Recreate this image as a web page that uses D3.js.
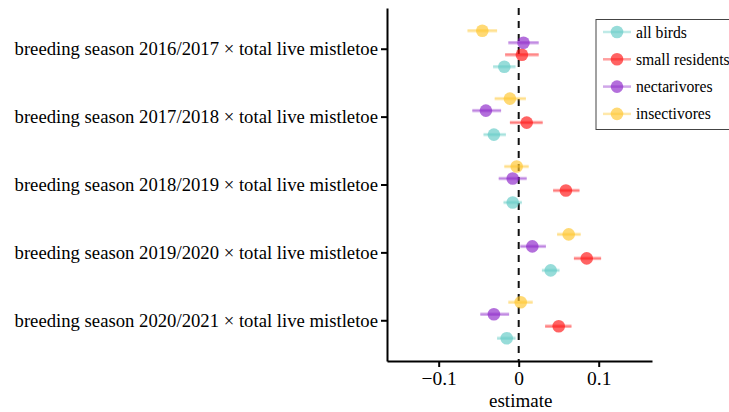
<!DOCTYPE html>
<html>
<head>
<meta charset="utf-8">
<script src="https://cdn.jsdelivr.net/npm/d3@7"></script>
<style>
  body { margin: 0; background: #fff; }
  svg { display: block; font-family: "Liberation Serif", "DejaVu Serif", serif; }
</style>
</head>
<body>
<div id="chart"></div>
<script>
// terms on the y axis, top to bottom
const terms = [
  "breeding season 2016/2017 \u00d7 total live mistletoe",
  "breeding season 2017/2018 \u00d7 total live mistletoe",
  "breeding season 2018/2019 \u00d7 total live mistletoe",
  "breeding season 2019/2020 \u00d7 total live mistletoe",
  "breeding season 2020/2021 \u00d7 total live mistletoe"
];

// legend order
const groups = ["all birds", "small residents", "nectarivores", "insectivores"];
const groupColors = ["#5fcac4", "#ff1010", "#8a22c8", "#ffc52a"];

// estimates and interval ends, one value per term
const estAll = [-0.018, -0.031, -0.0075, 0.040, -0.015];
const loAll  = [-0.032, -0.044, -0.019, 0.029, -0.027];
const hiAll  = [-0.004, -0.016, 0.004, 0.051, -0.004];

const estSmall = [0.004, 0.010, 0.059, 0.085, 0.050];
const loSmall  = [-0.017, -0.011, 0.043, 0.069, 0.033];
const hiSmall  = [0.025, 0.030, 0.076, 0.103, 0.066];

const estNect = [0.006, -0.041, -0.0075, 0.017, -0.031];
const loNect  = [-0.013, -0.058, -0.025, 0.002, -0.048];
const hiNect  = [0.025, -0.022, 0.010, 0.034, -0.012];

const estInsect = [-0.0455, -0.011, -0.0025, 0.0625, 0.0025];
const loInsect  = [-0.064, -0.030, -0.018, 0.048, -0.013];
const hiInsect  = [-0.027, 0.009, 0.0125, 0.0775, 0.0175];

const xTicks = [-0.1, 0, 0.1];

const width = 729, height = 412;
const margin = {top: 8, right: 77, bottom: 51, left: 387};

const svg = d3.select("#chart").append("svg")
    .attr("width", width)
    .attr("height", height);

const x = d3.scaleLinear()
    .domain([-0.1646, 0.1666])
    .range([margin.left, width - margin.right]);

const y = d3.scalePoint()
    .domain(terms)
    .range([margin.top, height - margin.bottom])
    .padding(0.6);

// within a term: insectivores on top, all birds at the bottom
const offset = d3.scalePoint()
    .domain(groups.slice().reverse())
    .range([-18, 18]);

const color = d3.scaleOrdinal().domain(groups).range(groupColors);

const series = [
  {group: "all birds", est: estAll, lo: loAll, hi: hiAll},
  {group: "small residents", est: estSmall, lo: loSmall, hi: hiSmall},
  {group: "nectarivores", est: estNect, lo: loNect, hi: hiNect},
  {group: "insectivores", est: estInsect, lo: loInsect, hi: hiInsect}
];

const rows = [];
series.forEach(s => {
    terms.forEach((t, i) => {
        rows.push({group: s.group, term: t, est: s.est[i], lo: s.lo[i], hi: s.hi[i]});
    });
});

// zero line
svg.append("line")
    .attr("x1", x(0)).attr("x2", x(0))
    .attr("y1", margin.top).attr("y2", height - margin.bottom)
    .attr("stroke", "#111")
    .attr("stroke-width", 2)
    .attr("stroke-dasharray", "7,6");

const marks = svg.append("g");

marks.selectAll("line.ci")
    .data(rows)
    .join("line")
    .attr("class", "ci")
    .attr("x1", d => x(d.lo))
    .attr("x2", d => x(d.hi))
    .attr("y1", d => y(d.term) + offset(d.group))
    .attr("y2", d => y(d.term) + offset(d.group))
    .attr("stroke", d => color(d.group))
    .attr("stroke-opacity", 0.35)
    .attr("stroke-width", 3.5);

marks.selectAll("line.ci-inner")
    .data(rows)
    .join("line")
    .attr("class", "ci-inner")
    .attr("x1", d => x(d.lo))
    .attr("x2", d => x(d.hi))
    .attr("y1", d => y(d.term) + offset(d.group))
    .attr("y2", d => y(d.term) + offset(d.group))
    .attr("stroke", d => color(d.group))
    .attr("stroke-opacity", 0.3)
    .attr("stroke-width", 1.2);

marks.selectAll("circle")
    .data(rows)
    .join("circle")
    .attr("cx", d => x(d.est))
    .attr("cy", d => y(d.term) + offset(d.group))
    .attr("r", 6.3)
    .attr("fill", d => color(d.group))
    .attr("fill-opacity", 0.65);

// axes
const yAxis = svg.append("g")
    .attr("transform", `translate(${margin.left},0)`)
    .call(d3.axisLeft(y).tickSize(6).tickPadding(3).tickSizeOuter(0));
yAxis.select(".domain").attr("stroke", "#000").attr("stroke-width", 2);
yAxis.selectAll(".tick line").attr("stroke", "#000").attr("stroke-width", 2);
yAxis.selectAll(".tick text")
    .attr("fill", "#000")
    .style("font-size", "18.7px")
    .style("font-family", "Liberation Serif, serif");

const xAxis = svg.append("g")
    .attr("transform", `translate(0,${height - margin.bottom})`)
    .call(d3.axisBottom(x).tickValues(xTicks).tickSize(6).tickPadding(4).tickSizeOuter(0)
        .tickFormat(d => d === 0 ? "0" : (d < 0 ? "\u2212" + Math.abs(d) : String(d))));
xAxis.select(".domain").attr("stroke", "#000").attr("stroke-width", 2);
xAxis.selectAll(".tick line").attr("stroke", "#000").attr("stroke-width", 2);
xAxis.selectAll(".tick text")
    .attr("fill", "#000")
    .style("font-size", "19.5px")
    .style("font-family", "Liberation Serif, serif");

svg.append("text")
    .attr("x", x(0) + 2)
    .attr("y", height - 5)
    .attr("text-anchor", "middle")
    .style("font-size", "19px")
    .text("estimate");

// legend
const legend = svg.append("g").attr("transform", "translate(596,19.5)");
legend.append("rect")
    .attr("width", 150)
    .attr("height", 110)
    .attr("fill", "#fff")
    .attr("stroke", "#444")
    .attr("stroke-width", 1);

const item = legend.selectAll("g.item")
    .data(groups)
    .join("g")
    .attr("class", "item")
    .attr("transform", (d, i) => `translate(0,${12.5 + i * 27.3})`);

item.append("line")
    .attr("x1", 7).attr("x2", 35)
    .attr("stroke", d => color(d))
    .attr("stroke-opacity", 0.4)
    .attr("stroke-width", 2.5);
item.append("circle")
    .attr("cx", 21)
    .attr("r", 6.3)
    .attr("fill", d => color(d))
    .attr("fill-opacity", 0.65);
item.append("text")
    .attr("x", 40)
    .attr("dy", "0.35em")
    .style("font-size", "15.7px")
    .text(d => d);
</script>
</body>
</html>
